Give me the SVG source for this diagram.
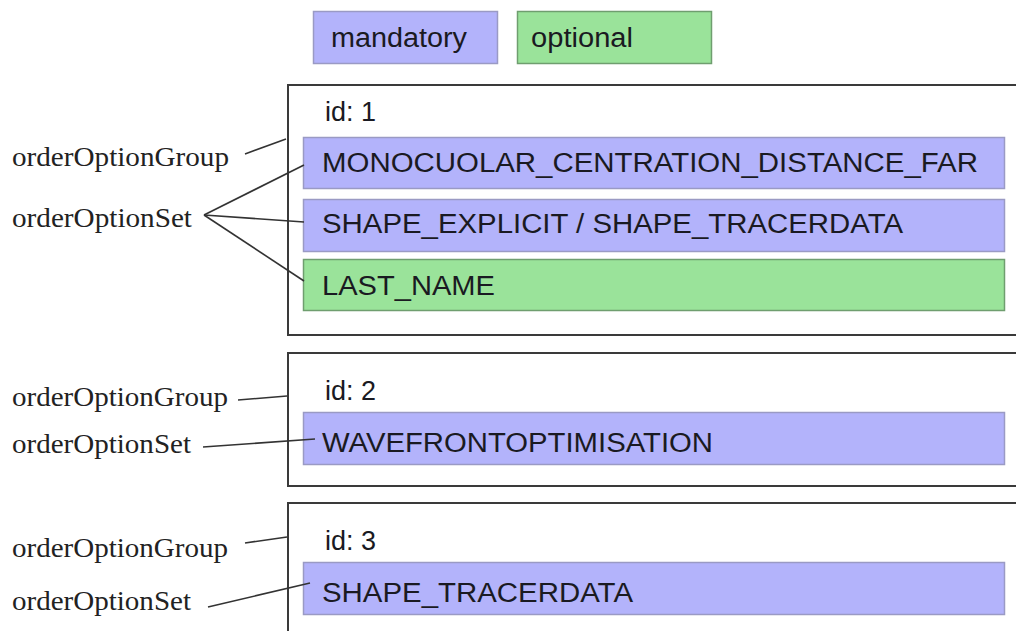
<svg xmlns="http://www.w3.org/2000/svg" width="1016" height="631" viewBox="0 0 1016 631">
<style>
.bg{fill:#ffffff}
.frame{fill:#ffffff;stroke:#3a3a3a;stroke-width:2}
.mand{fill:#b3b3fb;stroke:#9a9ac4;stroke-width:1.5}
.opt{fill:#9ae39a;stroke:#6f9e6f;stroke-width:1.5}
.sans{font-family:"Liberation Sans",Arial,sans-serif;font-size:27px;fill:#1a1a22}
.serif{font-family:"Liberation Serif","Times New Roman",serif;font-size:27px;fill:#222}
.conn{stroke:#333;stroke-width:1.6;fill:none}
</style>
<rect class="bg" x="0" y="0" width="1016" height="631"/>
<g id="legend-mandatory">
<rect class="mand" x="313.5" y="11.5" width="184" height="52"/>
<text class="sans" x="331" y="47" textLength="136" lengthAdjust="spacingAndGlyphs">mandatory</text>
</g>
<g id="legend-optional">
<rect class="opt" x="517.5" y="11.5" width="194" height="52"/>
<text class="sans" x="531" y="47" textLength="102" lengthAdjust="spacingAndGlyphs">optional</text>
</g>
<g id="group1">
<rect class="frame" x="288" y="85" width="760" height="250"/>
<text class="sans" x="325" y="121" textLength="51" lengthAdjust="spacingAndGlyphs">id: 1</text>
</g>
<g id="set-monocular">
<rect class="mand" x="303.5" y="137.5" width="701" height="51"/>
<text class="sans" x="322" y="172" textLength="656" lengthAdjust="spacingAndGlyphs">MONOCUOLAR_CENTRATION_DISTANCE_FAR</text>
</g>
<g id="set-shape">
<rect class="mand" x="303.5" y="199.5" width="701" height="52"/>
<text class="sans" x="322" y="233" textLength="581" lengthAdjust="spacingAndGlyphs">SHAPE_EXPLICIT / SHAPE_TRACERDATA</text>
</g>
<g id="set-lastname">
<rect class="opt" x="303.5" y="259.5" width="701" height="51"/>
<text class="sans" x="322" y="295" textLength="173" lengthAdjust="spacingAndGlyphs">LAST_NAME</text>
</g>
<g id="group2">
<rect class="frame" x="288" y="353" width="760" height="133"/>
<text class="sans" x="325" y="400" textLength="51" lengthAdjust="spacingAndGlyphs">id: 2</text>
</g>
<g id="set-wavefront">
<rect class="mand" x="303.5" y="412.5" width="701" height="52"/>
<text class="sans" x="322" y="452" textLength="391" lengthAdjust="spacingAndGlyphs">WAVEFRONTOPTIMISATION</text>
</g>
<g id="group3">
<rect class="frame" x="288" y="503" width="760" height="160"/>
<text class="sans" x="325" y="550" textLength="51" lengthAdjust="spacingAndGlyphs">id: 3</text>
</g>
<g id="set-tracer">
<rect class="mand" x="303.5" y="562.5" width="701" height="52"/>
<text class="sans" x="322" y="602" textLength="311" lengthAdjust="spacingAndGlyphs">SHAPE_TRACERDATA</text>
</g>
<g id="label-group1"><text class="serif" x="12" y="166" textLength="217" lengthAdjust="spacingAndGlyphs">orderOptionGroup</text></g>
<g id="label-set1"><text class="serif" x="12" y="227" textLength="180" lengthAdjust="spacingAndGlyphs">orderOptionSet</text></g>
<g id="label-group2"><text class="serif" x="12" y="406" textLength="216" lengthAdjust="spacingAndGlyphs">orderOptionGroup</text></g>
<g id="label-set2"><text class="serif" x="12" y="453" textLength="179" lengthAdjust="spacingAndGlyphs">orderOptionSet</text></g>
<g id="label-group3"><text class="serif" x="12" y="557" textLength="216" lengthAdjust="spacingAndGlyphs">orderOptionGroup</text></g>
<g id="label-set3"><text class="serif" x="12" y="610" textLength="179" lengthAdjust="spacingAndGlyphs">orderOptionSet</text></g>
<g id="connectors">
<line class="conn" x1="245" y1="154" x2="286" y2="139"/>
<line class="conn" x1="204" y1="215" x2="304" y2="165"/>
<line class="conn" x1="204" y1="215" x2="304" y2="222"/>
<line class="conn" x1="204" y1="215" x2="304" y2="281"/>
<line class="conn" x1="238" y1="400" x2="287" y2="396"/>
<line class="conn" x1="203" y1="447" x2="315" y2="439"/>
<line class="conn" x1="245" y1="543" x2="287" y2="537"/>
<line class="conn" x1="208" y1="607" x2="310" y2="583"/>
</g>
</svg>
